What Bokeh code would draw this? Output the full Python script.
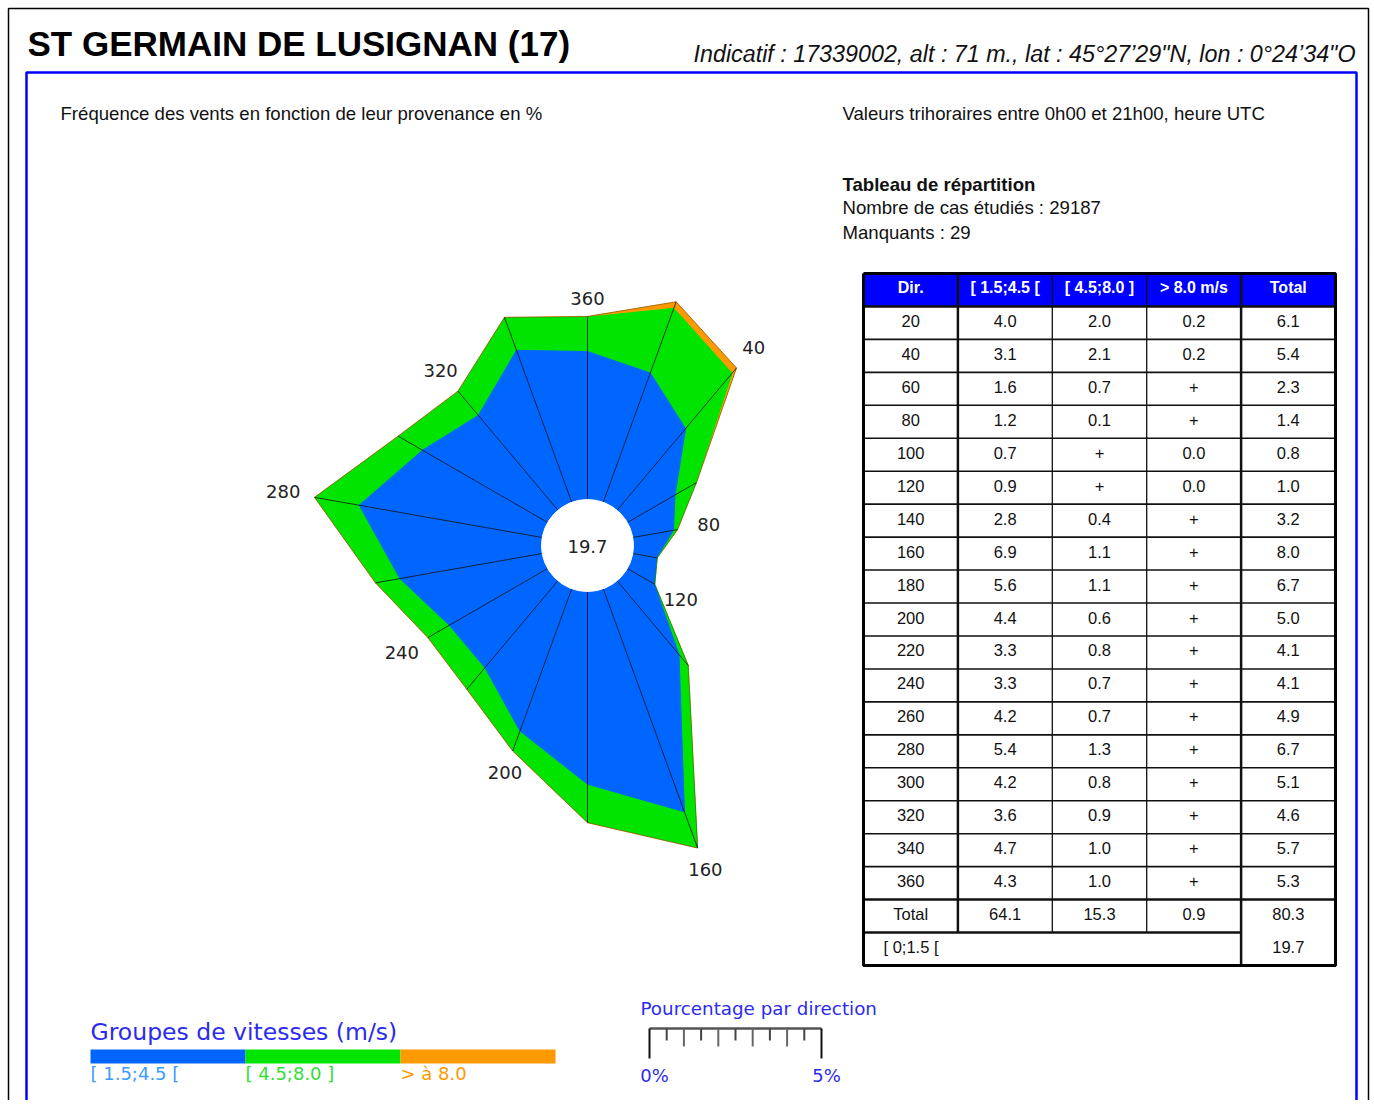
import numpy as np
from bokeh.plotting import figure
from bokeh.models import Range1d
from bokeh.embed import file_html
from bokeh.resources import INLINE
from bokeh.core.properties import value

# ---------------- data ----------------
station = "ST GERMAIN DE LUSIGNAN (17)"
meta = "Indicatif : 17339002, alt : 71 m., lat : 45°27’29\"N, lon : 0°24’34\"O"
subtitle_left = "Fréquence des vents en fonction de leur provenance en %"
subtitle_right = "Valeurs trihoraires entre 0h00 et 21h00, heure UTC"
table_title = "Tableau de répartition"
table_info = ["Nombre de cas étudiés : 29187", "Manquants : 29"]

directions = [20, 40, 60, 80, 100, 120, 140, 160, 180, 200, 220, 240, 260, 280, 300, 320, 340, 360]
# frequencies (%) per speed group ; "+" (trace) plotted as 0.02
freq_low = [4.0, 3.1, 1.6, 1.2, 0.7, 0.9, 2.8, 6.9, 5.6, 4.4, 3.3, 3.3, 4.2, 5.4, 4.2, 3.6, 4.7, 4.3]
freq_mid = [2.0, 2.1, 0.7, 0.1, 0.02, 0.02, 0.4, 1.1, 1.1, 0.6, 0.8, 0.7, 0.7, 1.3, 0.8, 0.9, 1.0, 1.0]
freq_high = [0.2, 0.2, 0.02, 0.02, 0.0, 0.0, 0.02, 0.02, 0.02, 0.02, 0.02, 0.02, 0.02, 0.02, 0.02, 0.02, 0.02, 0.02]
calm = 19.7
label_dirs = [360, 40, 80, 120, 160, 200, 240, 280, 320]

# table texts
table_header = ["Dir.", "[ 1.5;4.5 [", "[ 4.5;8.0 ]", "> 8.0 m/s", "Total"]
tab_low = ["4.0", "3.1", "1.6", "1.2", "0.7", "0.9", "2.8", "6.9", "5.6", "4.4", "3.3", "3.3", "4.2", "5.4", "4.2", "3.6", "4.7", "4.3"]
tab_mid = ["2.0", "2.1", "0.7", "0.1", "+", "+", "0.4", "1.1", "1.1", "0.6", "0.8", "0.7", "0.7", "1.3", "0.8", "0.9", "1.0", "1.0"]
tab_high = ["0.2", "0.2", "+", "+", "0.0", "0.0", "+", "+", "+", "+", "+", "+", "+", "+", "+", "+", "+", "+"]
tab_total = ["6.1", "5.4", "2.3", "1.4", "0.8", "1.0", "3.2", "8.0", "6.7", "5.0", "4.1", "4.1", "4.9", "6.7", "5.1", "4.6", "5.7", "5.3"]
total_row = ["Total", "64.1", "15.3", "0.9", "80.3"]
calm_label = "[ 0;1.5 ["

speed_groups = ["[ 1.5;4.5 [", "[ 4.5;8.0 ]", "> à 8.0"]
group_colors = ["#0066ff", "#00e400", "#ff9900"]
group_text_colors = ["#3d9bff", "#33dd33", "#ff9900"]
legend_title = "Groupes de vitesses (m/s)"
scale_title = "Pourcentage par direction"
scale_labels = ["0%", "5%"]
scale_max = 5

# ---------------- figure ----------------
W, H = 1370, 1100
p = figure(width=W, height=H, x_range=Range1d(0, W), y_range=Range1d(H, 0),
           output_backend="svg", toolbar_location=None, min_border=0)
p.axis.visible = False
p.grid.visible = False
p.outline_line_color = None
p.background_fill_color = "white"
p.border_fill_color = "white"

ARIAL = "Liberation Sans"
DEJA = "DejaVu Sans"


def T(x, y, s, size, font=ARIAL, color="#111111", align="left", baseline="middle", style="normal"):
    p.text(x=[x], y=[y], text=[s], text_font=value(font), text_font_size=f"{size}px",
           text_color=color, text_align=align, text_baseline=baseline, text_font_style=style)


# frames
p.line([8, 8, 1368, 1368], [1110, 8, 8, 1110], line_color="black", line_width=1.5)
p.line([26, 26, 1356, 1356], [1110, 72, 72, 1110], line_color="#0000ff", line_width=2.5)

T(27, 43, station, 35, style="bold", color="black")
T(1355, 53, meta, 23.3, color="#111111", align="right", style="italic")
T(60, 113, subtitle_left, 18.6)
T(842, 113, subtitle_right, 18.6)
T(842, 184, table_title, 18.6, style="bold")
for i, s in enumerate(table_info):
    T(842, 207 + i * 25, s, 18.6)

# ---------------- wind rose ----------------
CX, CY = 587, 545
HOLE = 46
SCALE = 34.4  # px per %

theta = np.radians(np.array(directions, dtype=float))
low = np.array(freq_low)
mid = low + np.array(freq_mid)
high = mid + np.array(freq_high)


def polar(r):
    return CX + r * np.sin(theta), CY - r * np.cos(theta)


for cum, col in zip([high, mid, low], group_colors[::-1]):
    x, y = polar(HOLE + cum * SCALE)
    p.patch(list(x), list(y), fill_color=col, line_color=col, line_width=1)

xo, yo = polar(HOLE + high * SCALE)
p.patch(list(xo), list(yo), fill_color=None, line_color="#333333", line_width=0.7, line_alpha=0.6)
xi, yi = polar(np.full(len(directions), HOLE))
p.segment(x0=list(xi), y0=list(yi), x1=list(xo), y1=list(yo), line_color="#111111", line_width=0.8)
p.circle(x=[CX], y=[CY], radius=HOLE, fill_color="white", line_color="white")
T(CX, CY + 1, f"{calm:.1f}", 18, font=DEJA, color="#222222", align="center")

for d in label_dirs:
    k = directions.index(d)
    th = theta[k]
    r = HOLE + high[k] * SCALE + 18 + 14 * abs(np.sin(th))
    T(CX + r * np.sin(th), CY - r * np.cos(th), str(d), 18, font=DEJA, color="#222222", align="center")

# ---------------- table ----------------
TX0, TY0 = 863, 273
CW = (1335 - 863) / 5
RH = (965 - 273) / 21
TX1 = TX0 + 5 * CW
TY1 = TY0 + 21 * RH
DY = -2  # text sits slightly above the cell centre

p.quad(left=[TX0], right=[TX1], top=[TY0], bottom=[TY0 + RH], fill_color="#0000ff", line_color=None)

rows = [[str(d), a, b, c, t] for d, a, b, c, t in zip(directions, tab_low, tab_mid, tab_high, tab_total)]
rows.append(total_row)

for j, h in enumerate(table_header):
    T(TX0 + (j + 0.5) * CW, TY0 + 0.5 * RH + DY, h, 16, color="white", align="center", style="bold")
for i, row in enumerate(rows):
    yc = TY0 + (i + 1.5) * RH + DY
    for j, s in enumerate(row):
        T(TX0 + (j + 0.5) * CW, yc, s, 16.5, color="#111111", align="center")
T(TX0 + 20, TY0 + 20.5 * RH + DY, calm_label, 16.5, color="#111111")
T(TX0 + 4.5 * CW, TY0 + 20.5 * RH + DY, f"{calm:.1f}", 16.5, color="#111111", align="center")

# horizontal lines
for i in range(1, 20):
    lw = 2.5 if i in (1, 19) else 1.6
    p.segment(x0=[TX0], y0=[TY0 + i * RH], x1=[TX1], y1=[TY0 + i * RH], line_color="#111111", line_width=lw)
p.segment(x0=[TX0], y0=[TY0 + 20 * RH], x1=[TX0 + 4 * CW], y1=[TY0 + 20 * RH], line_color="#111111", line_width=2.5)
# vertical lines
for j in range(1, 5):
    lw = 2.5 if j in (1, 4) else 1.3
    yb = TY1 if j == 4 else TY0 + 20 * RH
    p.segment(x0=[TX0 + j * CW], y0=[TY0], x1=[TX0 + j * CW], y1=[yb], line_color="#111111", line_width=lw)
p.line([TX0, TX1, TX1, TX0, TX0], [TY0, TY0, TY1, TY1, TY0], line_color="black", line_width=3)

# ---------------- legend ----------------
LX0, LY = 90, 1049
seg = (555 - 90) / 3
T(LX0, 1031, legend_title, 23.5, font=DEJA, color="#2b2bf0")
for i, (g, c, tc) in enumerate(zip(speed_groups, group_colors, group_text_colors)):
    p.quad(left=[LX0 + i * seg], right=[LX0 + (i + 1) * seg], top=[LY], bottom=[LY + 14], fill_color=c, line_color=None)
    T(LX0 + i * seg, 1073, g, 18, font=DEJA, color=tc)

# scale bar
SX0, SY = 649, 1028
T(640, 1008, scale_title, 18.3, font=DEJA, color="#2b2bf0")
p.segment(x0=[SX0], y0=[SY], x1=[SX0 + scale_max * SCALE], y1=[SY], line_color="#555555", line_width=2.5)
for k in range(2 * scale_max + 1):
    v = k * 0.5
    if k in (0, 2 * scale_max):
        ln, col = 30, "#111111"
    elif k % 2 == 0:
        ln, col = 18, "#666666"
    else:
        ln, col = 12, "#444444"
    p.segment(x0=[SX0 + v * SCALE], y0=[SY], x1=[SX0 + v * SCALE], y1=[SY + ln], line_color=col, line_width=2)
T(SX0 + 5, 1075, scale_labels[0], 18, font=DEJA, color="#2b2bf0", align="center")
T(SX0 + scale_max * SCALE + 5, 1075, scale_labels[1], 18, font=DEJA, color="#2b2bf0", align="center")

open("out.html", "w").write(file_html(p, INLINE))
